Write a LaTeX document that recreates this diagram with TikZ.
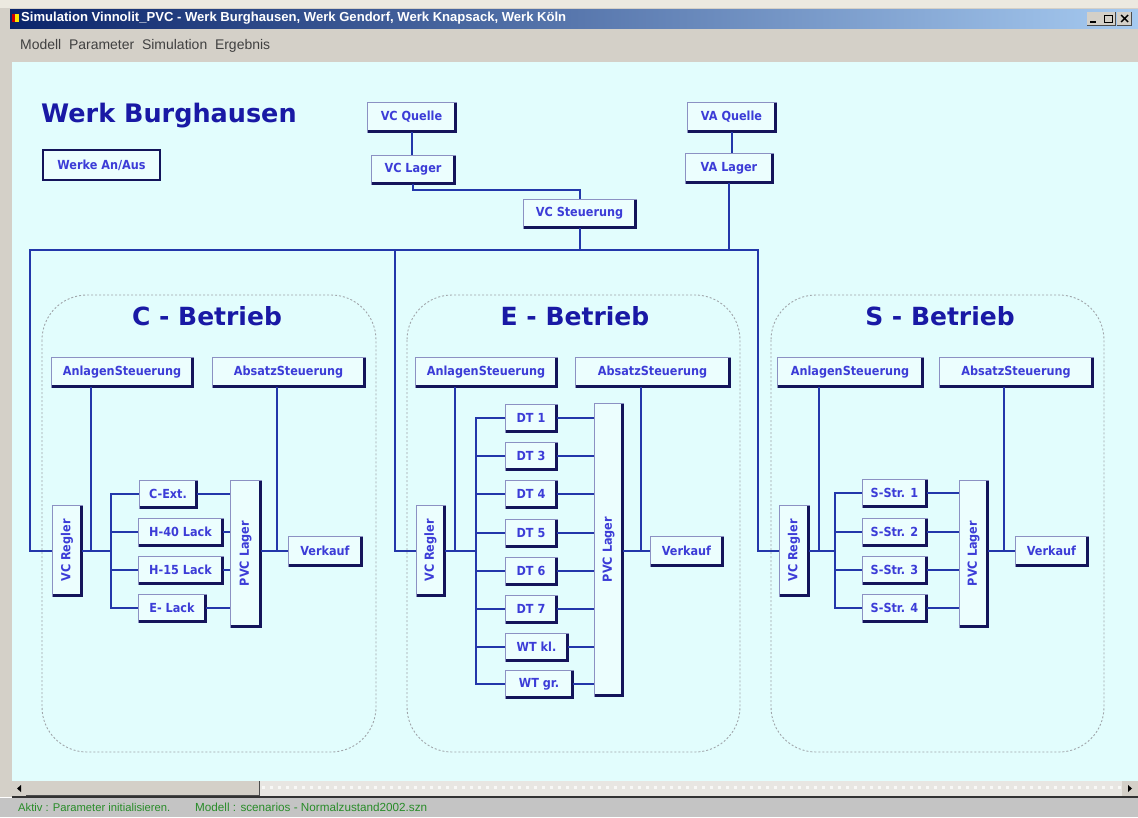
\documentclass[tikz,border=0pt]{standalone}
\usepackage{fontspec}
\setmainfont{DejaVu Sans}
\newfontfamily\uifont{Liberation Sans}
\newfontfamily\boxfont[FakeStretch=0.9]{DejaVu Sans}
\usetikzlibrary{calc}
\definecolor{contentbg}{RGB}{226,253,253}
\definecolor{boxfill}{RGB}{236,254,254}
\definecolor{boxedge}{RGB}{140,145,195}
\definecolor{boxshadow}{RGB}{20,20,90}
\definecolor{boxtext}{RGB}{60,60,215}
\definecolor{titletext}{RGB}{25,25,165}
\definecolor{linecol}{RGB}{35,55,170}
\definecolor{dashcol}{RGB}{160,165,170}
\definecolor{menubg}{RGB}{212,208,200}
\definecolor{tbleft}{RGB}{10,36,106}
\definecolor{tbright}{RGB}{166,202,240}
\definecolor{statusbg}{RGB}{196,196,196}
\definecolor{statustext}{RGB}{40,140,40}
\definecolor{topstrip}{RGB}{236,233,224}
\definecolor{tracktxt}{RGB}{232,230,226}
\tikzset{
  bx/.style={draw=boxedge, line width=0.8pt, fill=boxfill, inner sep=0pt,
    font=\boxfont\bfseries\fontsize{12.5}{14}\selectfont, text=boxtext},
  shad/.style={draw=boxshadow, line width=2.2pt},
  ln/.style={draw=linecol, line width=2pt},
  secbox/.style={draw=dashcol, line width=0.9pt, dash pattern=on 2pt off 2pt, rounded corners=45pt},
  sectitle/.style={font=\bfseries\fontsize{25}{28}\selectfont, text=titletext, inner sep=0pt},
}
% name, x1, y1, x2, y2, text
\newcommand{\bx}[6]{%
  \node[bx, minimum width={(#4)-(#2)}, minimum height={(#5)-(#3)}] (#1) at ({((#2)+(#4))/2},{((#3)+(#5))/2}) {#6};
  \draw[shad] ([xshift=1pt,yshift=1pt]#1.south west) -- ([xshift=-1pt,yshift=1pt]#1.south east) -- ([xshift=-1pt,yshift=-1pt]#1.north east);
}
\begin{document}
\begin{tikzpicture}[x=1pt,y=-1pt]
\useasboundingbox (0,0) rectangle (1138,817);
% window chrome
\fill[topstrip] (0,0) rectangle (1138,8);
\fill[menubg] (0,8) rectangle (1138,62);
\shade[left color=tbleft, right color=tbright] (10,9) rectangle (1138,28);
\fill[red!80!black] (12,14) rectangle (15,22);
\fill[yellow!90!orange] (15,14) rectangle (19,22);
\node[anchor=west, inner sep=0pt, text=white] (wtitle) at (21,18.5) {\resizebox{545pt}{!}{\uifont\bfseries Simulation Vinnolit\_PVC - Werk Burghausen, Werk Gendorf, Werk Knapsack, Werk Köln}};
\foreach \bxa in {1087,1101,1117}{
  \fill[menubg] (\bxa,12) rectangle ++(14,13);
  \draw[black!70, line width=0.6pt] (\bxa,25) -- ++(14,0) -- ++(0,-13);
}
\draw[black, line width=1.4pt] (1090,22) -- (1096,22);
\draw[black, line width=1pt] (1104,15) rectangle (1112,22);
\draw[black, line width=1.4pt] (1121,15) -- (1128,22) (1121,22) -- (1128,15);
\node[anchor=west, inner sep=0pt, text=black!75] (menu) at (20,45.5) {\resizebox{250pt}{!}{\uifont Modell\ \ Parameter\ \ Simulation\ \ Ergebnis}};
% content
\fill[menubg] (0,62) rectangle (12,797);
\fill[contentbg] (12,62) rectangle (1138,781);
% scrollbar
\fill[tracktxt] (12,781) rectangle (1138,797);
\foreach \dx in {262,270,...,1118}{\fill[white!70!tracktxt] (\dx,786) rectangle ++(3,3);}
\fill[menubg] (12,781) rectangle (26,796);
\fill[black] (17,788.5) -- (21,785) -- (21,792) -- cycle;
\fill[menubg] (26,781) rectangle (259,795);
\draw[black!70, line width=1pt] (26,795.5) -- (259,795.5) -- (259,781);
\fill[menubg] (1122,781) rectangle (1138,796);
\fill[black] (1132,788.5) -- (1128,785) -- (1128,792) -- cycle;
\draw[black!80, line width=1.5pt] (12,797) -- (1138,797);
% status bar
\fill[statusbg] (0,798) rectangle (1138,817);
\node[anchor=west, inner sep=0pt, text=statustext] (st1) at (18,807) {\resizebox{152pt}{!}{\uifont Aktiv : Parameter initialisieren.}};
\node[anchor=west, inner sep=0pt, text=statustext] (st2) at (195,807) {\resizebox{232pt}{!}{\uifont Modell : scenarios - Normalzustand2002.szn}};

% heading
\node[anchor=west, inner sep=0pt, text=titletext, font=\bfseries\fontsize{25.5}{28}\selectfont] (werk) at (41,116) {Werk Burghausen};
\node[draw=boxshadow, line width=1.8pt, fill=boxfill, inner sep=0pt, minimum width=117pt, minimum height=30pt, text=boxtext, font=\boxfont\bfseries\fontsize{12.5}{14}\selectfont] (werke) at (101.5,165) {Werke An/Aus};
\draw[shad] ([yshift=1pt]werke.south west) -- ([xshift=-1pt,yshift=1pt]werke.south east) -- ([xshift=-1pt]werke.north east);

% section containers
\draw[secbox] (42,295) rectangle (376,752);
\draw[secbox] (407,295) rectangle (740,752);
\draw[secbox] (771,295) rectangle (1104,752);
\node[sectitle] (cT) at (207,316) {C - Betrieb};
\node[sectitle] (eT) at (575,316) {E - Betrieb};
\node[sectitle] (sT) at (940,316) {S - Betrieb};

% top boxes
\bx{vcq}{367}{102}{456}{132}{VC Quelle}
\bx{vcl}{371}{155}{455}{184}{VC Lager}
\bx{vcs}{523}{199}{636}{228}{VC Steuerung}
\bx{vaq}{687}{102}{776}{132}{VA Quelle}
\bx{val}{685}{153}{773}{183}{VA Lager}

\coordinate (topL) at (30,250);
\coordinate (topE) at (395,250);
\coordinate (topR) at (758,250);

% C section
\bx{cAn}{51}{357}{193}{387}{AnlagenSteuerung}
\bx{cAb}{212}{357}{365}{387}{AbsatzSteuerung}
\bx{cReg}{52}{505}{82}{596}{\rotatebox{90}{VC Regler}}
\bx{cPL}{230}{480}{261}{627}{\rotatebox{90}{PVC Lager}}
\bx{cVk}{288}{536}{362}{566}{Verkauf}
\foreach \n/\t/\xa/\xb/\yc in {cI1/C-Ext./139/197/494, cI2/H-40 Lack/138/223/532, cI3/H-15 Lack/138/223/570, cI4/E- Lack/138/206/608}{
  \bx{\n}{\xa}{\yc-14}{\xb}{\yc+14}{\t}
}
\coordinate (cBus) at (111,550.5);

% E section
\bx{eAn}{415}{357}{557}{387}{AnlagenSteuerung}
\bx{eAb}{575}{357}{730}{387}{AbsatzSteuerung}
\bx{eReg}{416}{505}{445}{596}{\rotatebox{90}{VC Regler}}
\bx{ePL}{594}{403}{623}{696}{\rotatebox{90}{PVC Lager}}
\bx{eVk}{650}{536}{723}{566}{Verkauf}
\foreach \n/\t/\xa/\xb/\yc in {eI1/DT 1/505/557/418, eI2/DT 3/505/557/456, eI3/DT 4/505/557/494, eI4/DT 5/505/557/533, eI5/DT 6/505/557/571, eI6/DT 7/505/557/609, eI7/WT kl./505/568/647, eI8/WT gr./505/573/684}{
  \bx{\n}{\xa}{\yc-14}{\xb}{\yc+14}{\t}
}
\coordinate (eBus) at (476,550.5);

% S section
\bx{sAn}{777}{357}{923}{387}{AnlagenSteuerung}
\bx{sAb}{939}{357}{1093}{387}{AbsatzSteuerung}
\bx{sReg}{779}{505}{809}{596}{\rotatebox{90}{VC Regler}}
\bx{sPL}{959}{480}{988}{627}{\rotatebox{90}{PVC Lager}}
\bx{sVk}{1015}{536}{1088}{566}{Verkauf}
\foreach \n/\t/\yc in {sI1/S-Str. 1/493, sI2/S-Str. 2/532, sI3/S-Str. 3/570, sI4/S-Str. 4/608}{
  \bx{\n}{862}{\yc-14}{927}{\yc+14}{\t}
}
\coordinate (sBus) at (835,550.5);

% top connectors
\draw[ln] (vcq.south) -- (vcq.south |- vcl.north);
\draw[ln] (vcl.south) -- ++(0,6) -| (vcs.north);
\draw[ln] (vaq.south) -- (vaq.south |- val.north);
\draw[ln] (val.south) -- (val.south |- topR);
\draw[ln] (vcs.south) -- (vcs.south |- topL);
\draw[ln] (cReg.west) -| (topL) -- (topR) |- (sReg.west);
\draw[ln] (topE) |- (eReg.west);

% section connectors
\foreach \s in {c,e,s}{
  \draw[ln] (\s Reg.east) -- (\s Bus);
  \draw[ln] ([xshift=-31pt]\s An.south) |- (\s Reg.east);
  \draw[ln] (\s PL.east |- \s Vk.west) -- (\s Vk.west);
  \draw[ln] ([xshift=-12pt]\s Ab.south) -- ([xshift=-12pt]\s Ab.south |- \s Vk.west);
}
\foreach \n in {cI1,cI2,cI3,cI4}{
  \draw[ln] (\n.west) -| (cBus);
  \draw[ln] (\n.east) -- (\n.east -| cPL.west);
}
\foreach \n in {eI1,eI2,eI3,eI4,eI5,eI6,eI7,eI8}{
  \draw[ln] (\n.west) -| (eBus);
  \draw[ln] (\n.east) -- (\n.east -| ePL.west);
}
\foreach \n in {sI1,sI2,sI3,sI4}{
  \draw[ln] (\n.west) -| (sBus);
  \draw[ln] (\n.east) -- (\n.east -| sPL.west);
}
\end{tikzpicture}
\end{document}
